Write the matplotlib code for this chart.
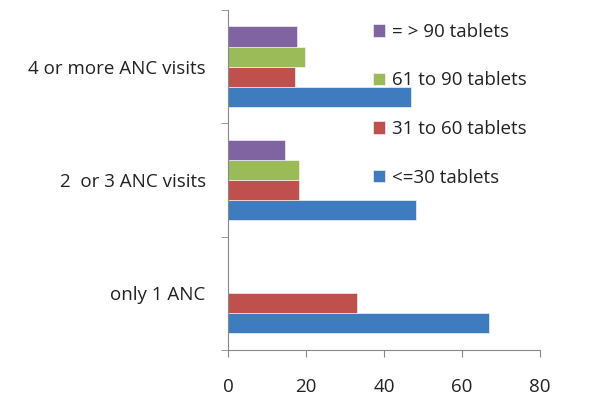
import numpy as np
import matplotlib
matplotlib.use("Agg")
import matplotlib.pyplot as plt
from matplotlib.ticker import FixedLocator

plt.rcParams["font.family"] = ["Open Sans", "DejaVu Sans"]

groups = ["only 1 ANC", "2  or 3 ANC visits", "4 or more ANC visits"]
series = ["<=30 tablets", "31 to 60 tablets", "61 to 90 tablets", "= > 90 tablets"]
le30 = [66.9, 48.2, 46.9]
t31_60 = [33.1, 18.2, 17.2]
t61_90 = [0, 18.2, 19.7]
ge90 = [0, 14.6, 17.7]
colors = ["#3F7BBF", "#C0504D", "#9BBB59", "#8064A2"]
fs = 13.5

fig = plt.figure(figsize=(5.94, 4.03), dpi=100)
ax = fig.add_axes([0.384, 0.132, 0.525, 0.843])

y = np.arange(len(groups))
h = 0.178
handles = []
for i, (vals, col, lab) in enumerate(zip([le30, t31_60, t61_90, ge90], colors, series)):
    b = ax.barh(y + (i - 1.5) * h, vals, height=h, color=col, label=lab,
                edgecolor="white", linewidth=0.4)
    handles.append(b)

ax.set_xlim(0, 80)
ax.set_ylim(-0.5, 2.5)
ax.set_xticks([0, 20, 40, 60, 80])
ax.set_yticks(y)
ax.set_yticklabels(groups)
ax.yaxis.set_minor_locator(FixedLocator([-0.5, 0.5, 1.5, 2.5]))
ax.tick_params(axis="y", which="major", length=0, pad=16, labelsize=fs, labelcolor="#222222")
ax.tick_params(axis="y", which="minor", length=5, color="#888888")
ax.tick_params(axis="x", length=5, color="#888888", pad=15, labelsize=fs, labelcolor="#222222")

for s in ["top", "right"]:
    ax.spines[s].set_visible(False)
for s in ["left", "bottom"]:
    ax.spines[s].set_color("#888888")

leg = fig.legend(handles[::-1], series[::-1], loc="upper left",
                 bbox_to_anchor=(0.600, 0.985), frameon=False, fontsize=fs,
                 handlelength=0.65, handleheight=0.65, handletextpad=0.35,
                 labelspacing=1.63)
for t in leg.get_texts():
    t.set_color("#222222")

fig.savefig("out.png", dpi=100)
